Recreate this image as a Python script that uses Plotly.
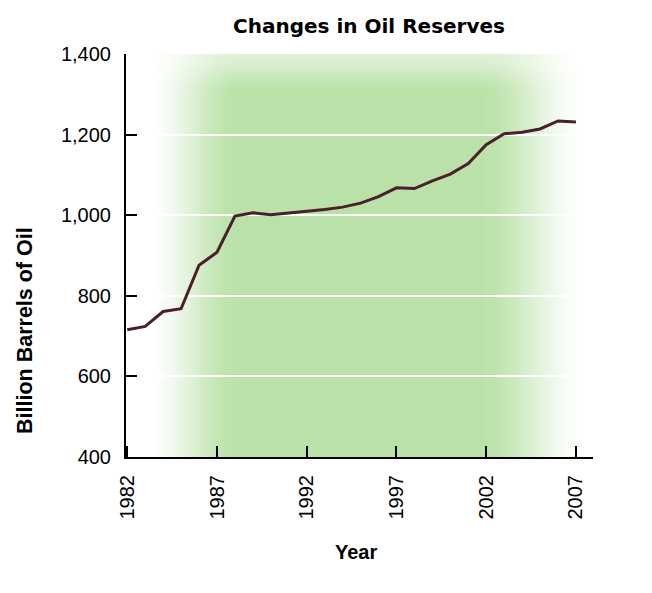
import base64, struct, zlib
import plotly.graph_objects as go

years = list(range(1982, 2008))
reserves = [716, 724, 761, 768, 876, 908, 998, 1006, 1001, 1006, 1010, 1014, 1020,
            1030, 1046, 1068, 1066, 1085, 1102, 1128, 1175, 1202, 1206, 1214, 1234, 1231]
x_ticks = [1982, 1987, 1992, 1997, 2002, 2007]
y_ticks = [400, 600, 800, 1000, 1200, 1400]

# plot area in pixels
L, R, T, B = 126, 593, 54, 457
W, H = 652, 593


def smooth(t):
    t = max(0.0, min(1.0, t))
    return t * t * (3 - 2 * t)


def make_png(w, h):
    g = (186, 226, 168)
    rows = []
    for j in range(h):
        py = T + (B - T) * j / (h - 1)
        fy = 0.5 + 0.5 * smooth((py - T) / 40)
        row = bytearray([0])
        for i in range(w):
            px = L + (R - L) * i / (w - 1)
            a = smooth((px - 145) / 95) * smooth((588 - px) / 110) * fy
            for c in g:
                row.append(int(round(255 - (255 - c) * a)))
        rows.append(bytes(row))
    raw = b"".join(rows)

    def chunk(tag, data):
        return struct.pack(">I", len(data)) + tag + data + struct.pack(">I", zlib.crc32(tag + data) & 0xffffffff)

    png = b"\x89PNG\r\n\x1a\n" + chunk(b"IHDR", struct.pack(">IIBBBBB", w, h, 8, 2, 0, 0, 0)) \
        + chunk(b"IDAT", zlib.compress(raw, 9)) + chunk(b"IEND", b"")
    return "data:image/png;base64," + base64.b64encode(png).decode()


font = "Liberation Sans, Arial, sans-serif"
tfont = "DejaVu Sans, Liberation Sans, sans-serif"

fig = go.Figure()
fig.add_trace(go.Scatter(x=years, y=reserves, mode="lines",
                         line=dict(color="#4b1f2c", width=3), hoverinfo="skip"))

fig.add_layout_image(dict(source=make_png(234, 100), xref="paper", yref="paper",
                          x=0, y=1, sizex=1, sizey=1, xanchor="left", yanchor="top",
                          sizing="stretch", layer="below"))

fig.update_layout(
    width=W, height=H,
    margin=dict(l=L, r=W - R, t=T, b=H - B),
    paper_bgcolor="white", plot_bgcolor="rgba(0,0,0,0)",
    showlegend=False,
    font=dict(family=font, color="black", size=20),
    title=dict(text="<b>Changes in Oil Reserves</b>", x=369 / W, xanchor="center",
               y=1 - 26 / H, yanchor="middle", font=dict(size=20, family=tfont, color="black")),
    xaxis=dict(range=[1981.93, 2007.95], tickvals=x_ticks, ticks="inside", ticklen=11,
               tickwidth=2, tickcolor="black", showline=True, linecolor="black", linewidth=2,
               showgrid=False, zeroline=False, tickangle=-90, ticklabelstandoff=8,
               tickfont=dict(size=20, family=font)),
    yaxis=dict(range=[400, 1400], tickvals=y_ticks, tickformat=",", ticks="inside",
               ticklen=11, tickwidth=2, tickcolor="black", showline=True, linecolor="black",
               linewidth=2, showgrid=True, gridcolor="white", gridwidth=2, zeroline=False,
               ticklabelstandoff=9, tickfont=dict(size=20, family=font)),
    annotations=[
        dict(text="<b>Billion Barrels of Oil</b>", xref="paper", yref="paper",
             x=(25 - L) / (R - L), y=(B - 331) / (B - T), textangle=-90, showarrow=False,
             xanchor="center", yanchor="middle", font=dict(size=21.5, family=font)),
        dict(text="<b>Year</b>", xref="paper", yref="paper",
             x=(356 - L) / (R - L), y=(B - 552) / (B - T), showarrow=False,
             xanchor="center", yanchor="middle", font=dict(size=20, family=font)),
    ],
)

fig.write_html("out.html")
